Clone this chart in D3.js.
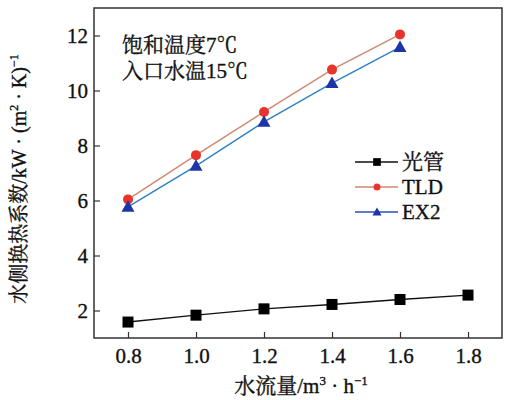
<!DOCTYPE html>
<html><head><meta charset="utf-8">
<script src="https://cdn.jsdelivr.net/npm/d3@7"></script>
<style>body{margin:0;background:#fff}svg{display:block}text{stroke:#111;stroke-width:0.35px}</style>
</head><body>
<svg id="c" width="510" height="400"></svg>
<script>
const flow = [0.8, 1.0, 1.2, 1.4, 1.6, 1.8];
const guang = [1.58, 1.83, 2.06, 2.22, 2.40, 2.56];
const tld = [6.04, 7.65, 9.22, 10.76, 12.04];
const ex2 = [5.77, 7.26, 8.86, 10.27, 11.58];
const xTicks = [0.8, 1.0, 1.2, 1.4, 1.6, 1.8];
const yTicks = [2, 4, 6, 8, 10, 12];
const seriesNames = ["光管", "TLD", "EX2"];

const svg = d3.select("#c");
const L = 94, R = 502, T = 8, B = 338;
const x = d3.scaleLinear().domain([0.7, 1.9]).range([L, R]);
const y = d3.scaleLinear().domain([1, 13]).range([B, T]);
const serif = "'Liberation Serif', 'Times New Roman', serif";
const cjk = "'Liberation Serif', 'Noto Serif CJK SC', 'Noto Sans CJK SC', serif";

const gx = svg.append("g").attr("transform", `translate(0,${B})`)
  .call(d3.axisBottom(x).tickValues(xTicks).tickSizeInner(-6).tickSizeOuter(0).tickPadding(14).tickFormat(d3.format(".1f")));
const gy = svg.append("g").attr("transform", `translate(${L},0)`)
  .call(d3.axisLeft(y).tickValues(yTicks).tickSizeInner(-6).tickSizeOuter(0).tickPadding(6).tickFormat(d3.format("d")));
[gx, gy].forEach(g => {
  g.attr("font-family", null);
  g.select(".domain").remove();
  g.selectAll("line").attr("stroke", "#333").attr("stroke-width", 1.2);
  g.selectAll("text").style("font-family", serif).style("font-size", "21px").attr("fill", "#111");
});
gx.selectAll("text").attr("dy", "0.71em").attr("y", 10);

svg.append("rect").attr("x", L).attr("y", T).attr("width", R - L).attr("height", B - T)
  .attr("fill", "none").attr("stroke", "#333").attr("stroke-width", 1.5);

const line = d3.line().x(d => x(d[0])).y(d => y(d[1]));
const series = [
  {vals: guang, line: "#111", mark: "#000", shape: "square"},
  {vals: tld, line: "#d08870", mark: "#e8352b", shape: "circle"},
  {vals: ex2, line: "#2f7fc4", mark: "#1d35a5", shape: "triangle"}
];
function drawMarker(g, shape, color, cx, cy, k) {
  if (shape === "square") g.append("rect").attr("x", cx - 5.5 * k).attr("y", cy - 5.5 * k).attr("width", 11 * k).attr("height", 11 * k).attr("fill", color);
  else if (shape === "circle") g.append("circle").attr("cx", cx).attr("cy", cy).attr("r", 5 * k).attr("fill", color);
  else g.append("path").attr("d", `M${cx},${cy - 6.5 * k}L${cx + 6.5 * k},${cy + 5 * k}L${cx - 6.5 * k},${cy + 5 * k}Z`).attr("fill", color);
}
series.forEach(s => {
  const pts = s.vals.map((v, i) => [flow[i], v]);
  svg.append("path").attr("d", line(pts)).attr("fill", "none").attr("stroke", s.line).attr("stroke-width", 1.4);
  const g = svg.append("g");
  pts.forEach(p => drawMarker(g, s.shape, s.mark, x(p[0]), y(p[1]), 1));
});

const lg = svg.append("g");
const legY = [162, 187, 212];
series.forEach((s, i) => {
  lg.append("line").attr("x1", 355).attr("x2", 398).attr("y1", legY[i]).attr("y2", legY[i]).attr("stroke", i === 2 ? "#2a4fb8" : s.line).attr("stroke-width", 1.4);
  drawMarker(lg, s.shape, s.mark, 377, legY[i], 0.7);
  lg.append("text").attr("x", 402).attr("y", legY[i] + 7).style("font-family", cjk).style("font-size", "21px").attr("fill", "#111").text(seriesNames[i]);
});

svg.append("text").attr("x", 122).attr("y", 52).style("font-family", cjk).style("font-size", "21px").attr("fill", "#111").text("饱和温度7℃");
svg.append("text").attr("x", 122).attr("y", 78).style("font-family", cjk).style("font-size", "21px").attr("fill", "#111").text("入口水温15℃");

const xt = svg.append("text").attr("x", 301).attr("y", 393).attr("text-anchor", "middle").style("font-family", cjk).style("font-size", "21px").attr("fill", "#111");
xt.append("tspan").text("水流量/m");
xt.append("tspan").style("font-size", "13px").attr("dy", -8).text("3");
xt.append("tspan").attr("dy", 8).text(" · h");
xt.append("tspan").style("font-size", "13px").attr("dy", -8).text("−1");

const yt = svg.append("text").attr("transform", "translate(26,179) rotate(-90)").attr("text-anchor", "middle").style("font-family", cjk).style("font-size", "20px").attr("fill", "#111");
yt.append("tspan").text("水侧换热系数/kW · (m");
yt.append("tspan").style("font-size", "12px").attr("dy", -8).text("2");
yt.append("tspan").attr("dy", 8).text(" · K)");
yt.append("tspan").style("font-size", "12px").attr("dy", -8).text("−1");
</script>
</body></html>
